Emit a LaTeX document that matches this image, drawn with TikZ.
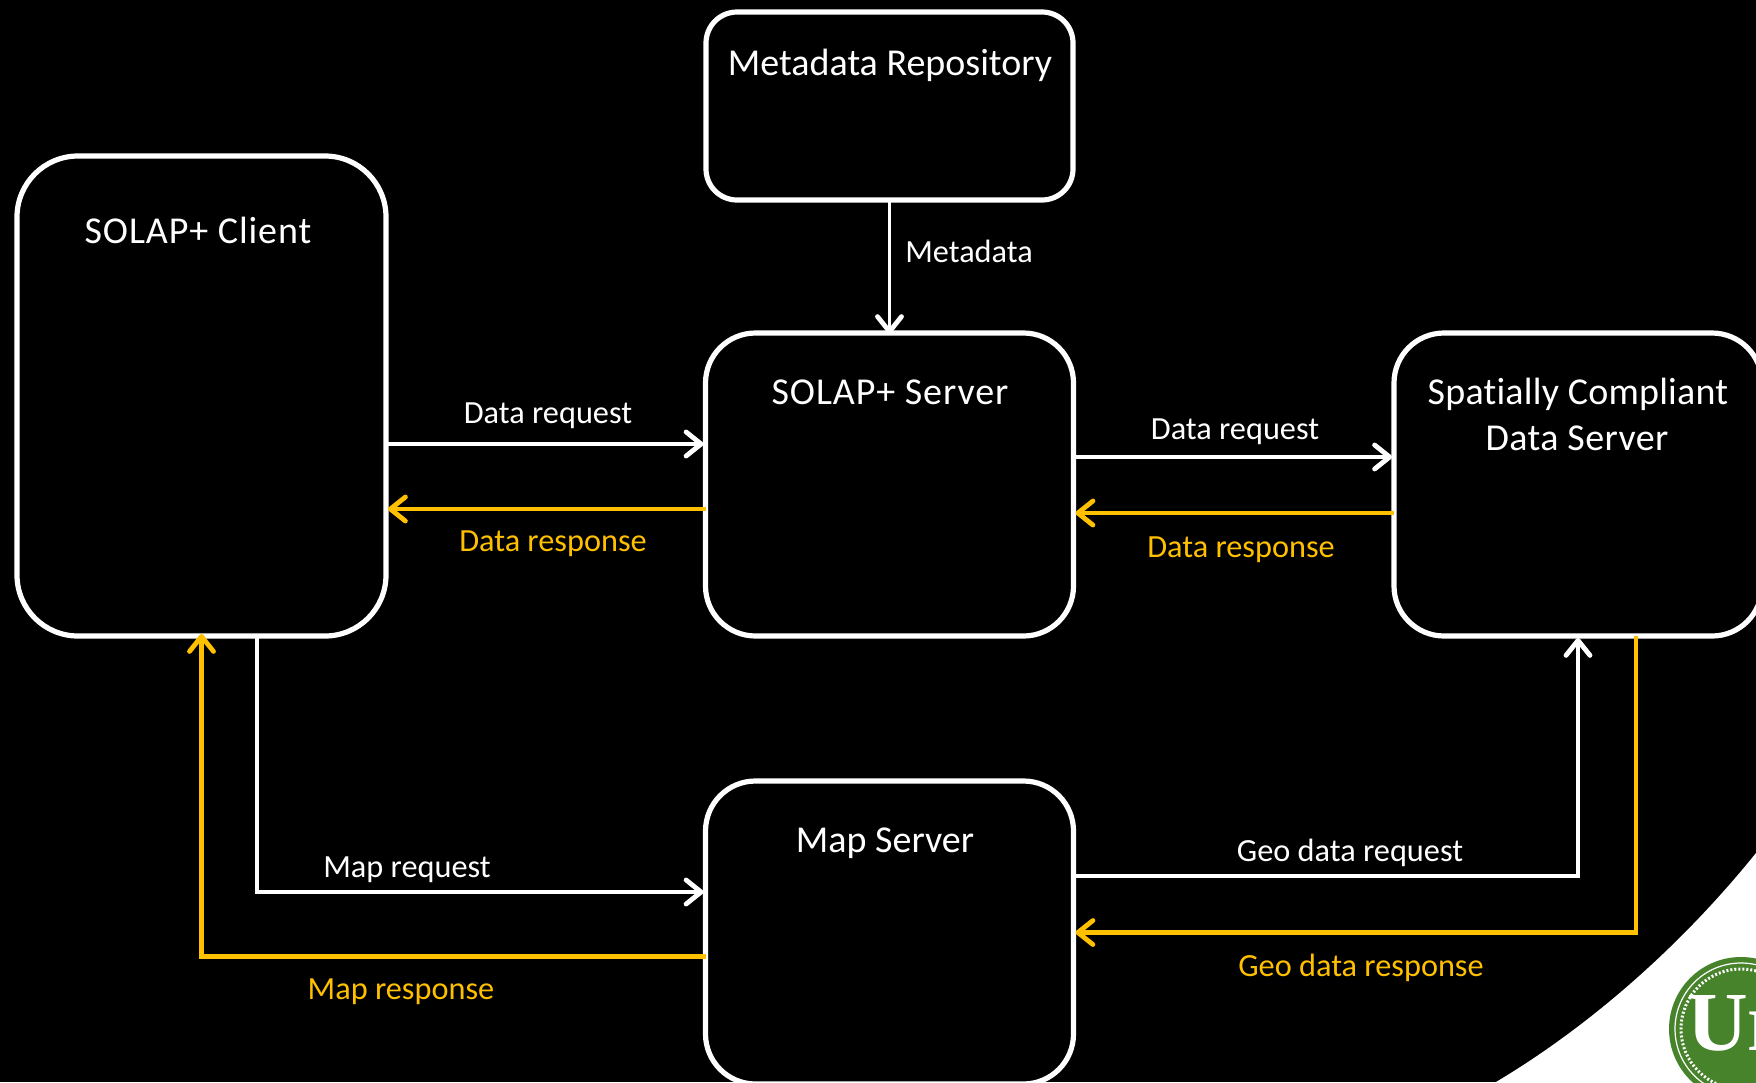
\documentclass[tikz,border=0pt]{standalone}
\usepackage{fontspec}
\setmainfont[Ligatures=NoCommon]{Carlito}
\newfontfamily\logofont{Liberation Serif}
\usetikzlibrary{arrows.meta,calc}
\definecolor{gold}{HTML}{FFC000}
\definecolor{sealgreen}{HTML}{47832A}
\tikzset{
  x=1pt,y=-1pt,
  boxnode/.style={draw=white,line width=5.2pt,fill=black,inner sep=0pt,outer sep=0pt},
  title/.style={text=white,anchor=base,inner sep=0pt,font=\fontsize{38}{38}\selectfont},
  lab/.style={anchor=base,inner sep=0pt,font=\fontsize{32.3}{33}\selectfont},
  wlab/.style={lab,text=white},
  ylab/.style={lab,text=gold},
  tipw/.tip={Straight Barb[round,length=15pt,width=24pt,line width=4.8pt]},
  req/.style={draw=white,line width=3.6pt,-tipw},
  resp/.style={draw=gold,line width=4.2pt,-tipw},
}
\begin{document}
\begin{tikzpicture}
\useasboundingbox (0,0) rectangle (1756,1082);
\clip (0,0) rectangle (1756,1082);
\fill[black] (0,0) rectangle (1756,1082);
% white corner and seal
\fill[white] (1756,853) .. controls (1690,935) and (1600,1020) .. (1496,1082) -- (1756,1082) -- cycle;
\fill[sealgreen] (1741,1029) circle[radius=72];
\draw[white,line width=1.2pt] (1741,1029) circle[radius=66];
\draw[white,line width=3pt,dash pattern=on 2pt off 2pt] (1741,1029) circle[radius=60];
\node[anchor=base west,inner sep=0pt,text=white,font=\logofont\bfseries\fontsize{84}{84}\selectfont] at (1687,1050) {Ur};
% boxes
\node[boxnode,minimum width=367pt,minimum height=188pt,rounded corners=31pt] (meta) at (889.5,106) {};
\node[boxnode,minimum width=369pt,minimum height=480pt,rounded corners=61pt] (client) at (201.5,396) {};
\node[boxnode,minimum width=368pt,minimum height=303pt,rounded corners=50pt] (server) at (889.5,484.5) {};
\node[boxnode,minimum width=368pt,minimum height=303pt,rounded corners=50pt] (spatial) at (1578,484.5) {};
\node[boxnode,minimum width=368pt,minimum height=303pt,rounded corners=50pt] (map) at (889.5,932.5) {};
% titles
\node[title] (t1) at (890,75) {Metadata Repository};
\node[title] (t2) at (198,243) {\addfontfeature{LetterSpace=2.4}SOLAP+ Client};
\node[title] (t3) at (890,404) {\addfontfeature{LetterSpace=2.4}SOLAP+ Server};
\node[title] (t4) at (1578,404) {\addfontfeature{LetterSpace=0.6}Spatially Compliant};
\node[title] (t5) at (1577,450) {\addfontfeature{LetterSpace=1}Data Server};
\node[title] (t6) at (885,852) {Map Server};
% connectors
\draw[req] (meta.south) -- ([yshift=-1pt]server.north);
\draw[req] ([yshift=-48pt]client.east) -- ([yshift=40.5pt,xshift=-2pt]server.west);
\draw[resp] ([yshift=-24.5pt]server.west) -- ([yshift=-113pt,xshift=2pt]client.east);
\draw[req] ([yshift=27.5pt]server.east) -- ([yshift=27.5pt,xshift=-2pt]spatial.west);
\draw[resp] ([yshift=-28.5pt]spatial.west) -- ([yshift=-28.5pt,xshift=2pt]server.east);
\draw[req] ([xshift=55.5pt]client.south) |- ([yshift=40.5pt,xshift=-2pt]map.west);
\draw[resp] ([yshift=-24pt]map.west) -| ([yshift=2pt]client.south);
\draw[req] ([yshift=56.5pt]map.east) -| ([yshift=-2pt]spatial.south);
\draw[resp] ([xshift=58pt]spatial.south) |- ([xshift=2pt]map.east);
% labels
\node[wlab] (l1) at (969,262) {Metadata};
\node[wlab] (l2) at (548,423) {Data request};
\node[ylab] (l3) at (553,551) {Data response};
\node[wlab] (l4) at (1235,439) {Data request};
\node[ylab] (l5) at (1241,557) {Data response};
\node[wlab] (l6) at (407,877) {Map request};
\node[ylab] (l7) at (401,999) {Map response};
\node[wlab] (l8) at (1350,861) {Geo data request};
\node[ylab] (l9) at (1361,976) {Geo data response};
\end{tikzpicture}
\end{document}
